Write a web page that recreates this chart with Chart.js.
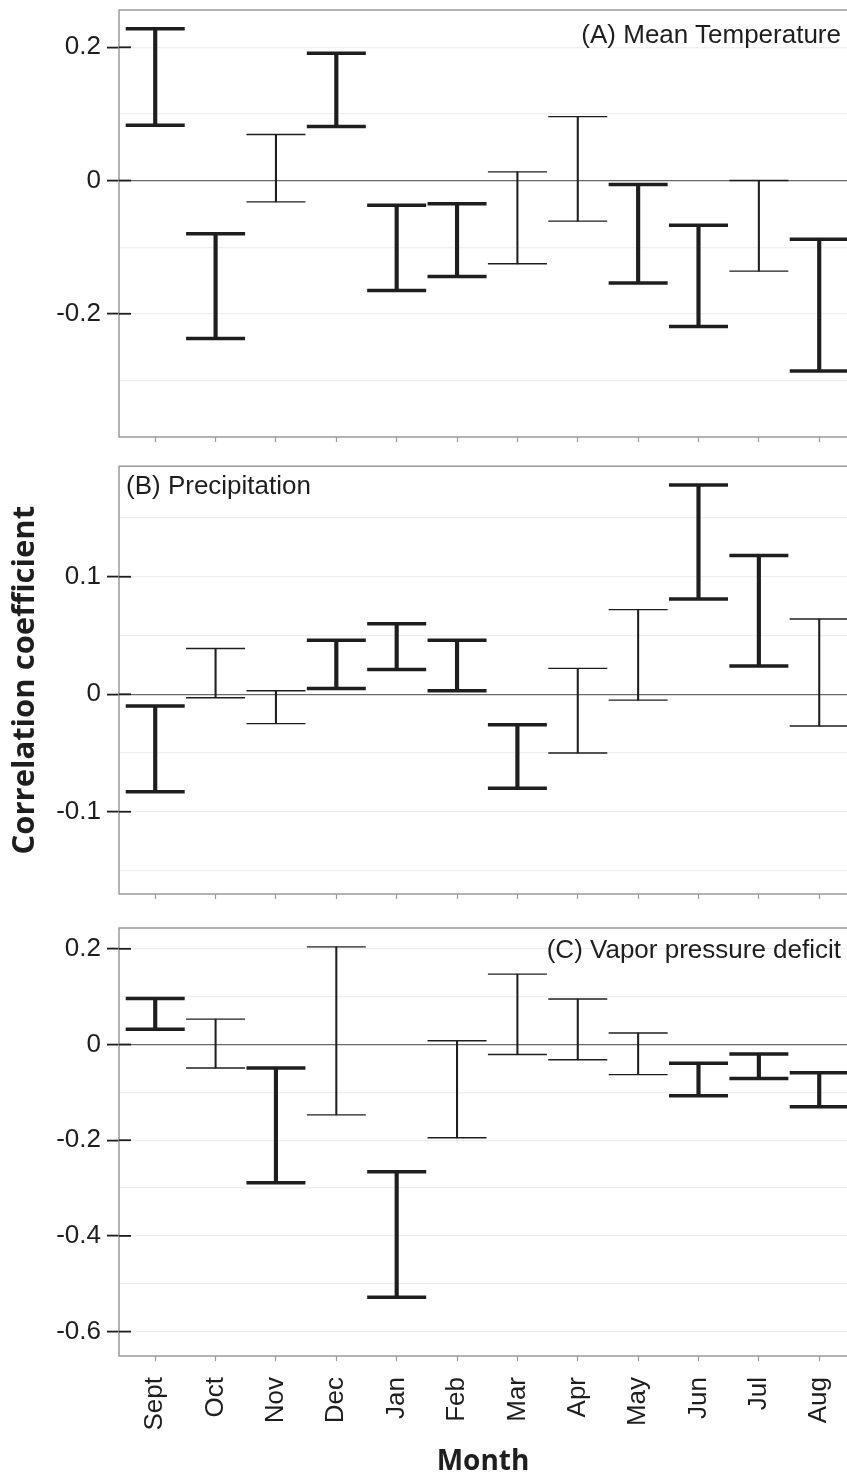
<!DOCTYPE html>
<html lang="en">
<head>
    <meta charset="UTF-8">
    <title>Correlation coefficient by month</title>
    <script src="https://cdn.jsdelivr.net/npm/chart.js"></script>
    <style>
        body { margin: 0; background: #fff; }
        #wrap { position: relative; width: 847px; height: 1476px; overflow: hidden; }
        canvas { position: absolute; left: 0; }
        .lab { position: absolute; font-family: "Liberation Sans", Arial, sans-serif; font-size: 26px; line-height: 26px; color: #1e1e1e; white-space: nowrap; }
    </style>
</head>
<body>
<div id="wrap">
    <canvas id="chartA" width="847" height="452" style="top:0px"></canvas>
    <canvas id="chartB" width="847" height="452" style="top:452px"></canvas>
    <canvas id="chartC" width="847" height="572" style="top:904px"></canvas>
    <div class="lab" style="right:6px; top:21px;">(A) Mean Temperature</div>
    <div class="lab" style="left:126px; top:472px;">(B) Precipitation</div>
    <div class="lab" style="right:6px; top:936px;">(C) Vapor pressure deficit</div>
</div>
<script>
    const months = ['Sept', 'Oct', 'Nov', 'Dec', 'Jan', 'Feb', 'Mar', 'Apr', 'May', 'Jun', 'Jul', 'Aug'];

    // (A) mean temperature
    const tempHigh = [0.228, -0.080, 0.069, 0.191, -0.037, -0.035, 0.013, 0.096, -0.006, -0.067, 0.000, -0.088];
    const tempLow = [0.083, -0.237, -0.032, 0.081, -0.165, -0.144, -0.125, -0.061, -0.154, -0.219, -0.136, -0.286];
    const tempBold = [1, 1, 0, 1, 1, 1, 0, 0, 1, 1, 0, 1];
    const tempGrid = [-0.3, -0.2, -0.1, 0, 0.1, 0.2];
    const tempTicks = [-0.2, 0, 0.2];

    // (B) precipitation
    const precHigh = [-0.010, 0.039, 0.003, 0.046, 0.060, 0.046, -0.026, 0.022, 0.072, 0.178, 0.118, 0.064];
    const precLow = [-0.083, -0.003, -0.025, 0.005, 0.021, 0.003, -0.080, -0.050, -0.005, 0.081, 0.024, -0.027];
    const precBold = [1, 0, 0, 1, 1, 1, 1, 0, 0, 1, 1, 0];
    const precGrid = [-0.15, -0.1, -0.05, 0, 0.05, 0.1, 0.15];
    const precTicks = [-0.1, 0, 0.1];

    // (C) vapor pressure deficit
    const vpdHigh = [0.096, 0.053, -0.049, 0.204, -0.266, 0.008, 0.147, 0.095, 0.024, -0.039, -0.020, -0.059];
    const vpdLow = [0.032, -0.049, -0.289, -0.147, -0.528, -0.195, -0.021, -0.032, -0.063, -0.107, -0.071, -0.130];
    const vpdBold = [1, 0, 1, 0, 1, 0, 0, 0, 0, 1, 1, 1];
    const vpdGrid = [-0.6, -0.5, -0.4, -0.3, -0.2, -0.1, 0, 0.1, 0.2];
    const vpdTicks = [-0.6, -0.4, -0.2, 0, 0.2];

    const ink = '#1e1e1e';
    const frameColor = '#9a9a9a';
    const tickFont = { family: '"Liberation Sans", Arial, sans-serif', size: 26 };

    // frame (top, left, bottom) + short inner tick marks on the y axis
    const framePlugin = {
        id: 'frame',
        beforeDatasetsDraw(chart) {
            const { ctx, chartArea: a, scales } = chart;
            ctx.save();
            ctx.strokeStyle = frameColor;
            ctx.lineWidth = 1.5;
            ctx.beginPath();
            ctx.moveTo(a.right + 2, a.top);
            ctx.lineTo(a.left, a.top);
            ctx.lineTo(a.left, a.bottom);
            ctx.lineTo(a.right + 2, a.bottom);
            ctx.stroke();
            const labels = chart.options.plugins.frame.labels;
            ctx.strokeStyle = ink;
            ctx.lineWidth = 1.8;
            labels.forEach(v => {
                const y = scales.y.getPixelForValue(v);
                ctx.beginPath();
                ctx.moveTo(a.left, y);
                ctx.lineTo(a.left + 12, y);
                ctx.stroke();
            });
            ctx.restore();
        }
    };

    function errorSets(low, high, bold, flag, width) {
        const idx = months.map((m, i) => i).filter(i => bold[i] === flag);
        return [{
            type: 'bar',
            data: idx.map(i => ({ x: i, y: [low[i], high[i]] })),
            backgroundColor: ink,
            borderWidth: 0,
            barThickness: width,
            grouped: false
        }, {
            type: 'line',
            showLine: false,
            data: idx.flatMap(i => [{ x: i, y: low[i] }, { x: i, y: high[i] }]),
            pointStyle: 'line',
            pointRadius: 29.5,
            pointBorderWidth: width,
            pointBorderColor: ink,
            pointBackgroundColor: ink
        }];
    }

    function makePanel(id, low, high, bold, grid, labels, yMin, yMax, padTop, xHeight, showX, yTitle) {
        new Chart(document.getElementById(id), {
            type: 'bar',
            data: {
                datasets: [
                    ...errorSets(low, high, bold, 1, 3.5),
                    ...errorSets(low, high, bold, 0, 1.4)
                ]
            },
            plugins: [framePlugin],
            options: {
                responsive: false,
                animation: false,
                events: [],
                devicePixelRatio: 1,
                layout: { autoPadding: false, padding: { top: padTop, left: 0, right: 0, bottom: 0 } },
                plugins: {
                    legend: { display: false },
                    tooltip: { enabled: false },
                    frame: { labels: labels }
                },
                scales: {
                    x: {
                        type: 'linear',
                        min: -0.6,
                        max: 11.46,
                        offset: false,
                        afterBuildTicks: s => { s.ticks = months.map((m, i) => ({ value: i })); },
                        afterFit: s => { s.height = xHeight; s.paddingLeft = 0; s.paddingRight = 0; },
                        border: { display: false },
                        grid: { display: true, offset: false, drawOnChartArea: false, drawTicks: true, tickLength: 5, tickColor: frameColor, tickWidth: 1.2 },
                        ticks: {
                            display: showX,
                            autoSkip: false,
                            minRotation: 90,
                            maxRotation: 90,
                            padding: 16,
                            color: ink,
                            font: tickFont,
                            callback: v => months[v]
                        },
                        title: {
                            display: showX,
                            text: 'Month',
                            color: ink,
                            font: { family: '"Open Sans", sans-serif', size: 28, weight: 'bold', lineHeight: 1 },
                            padding: { top: 0, bottom: 0 }
                        }
                    },
                    y: {
                        min: yMin,
                        max: yMax,
                        afterBuildTicks: s => { s.ticks = grid.map(v => ({ value: v })); },
                        afterFit: s => { s.width = 119; s.paddingTop = 0; s.paddingBottom = 0; },
                        border: { display: false },
                        grid: {
                            color: c => c.tick.value === 0 ? '#6a6a6a' : '#efefef',
                            lineWidth: 1.2,
                            tickLength: 12,
                            tickColor: c => labels.includes(c.tick.value) ? ink : 'rgba(0,0,0,0)',
                            tickWidth: 1.8
                        },
                        ticks: {
                            padding: 6,
                            color: ink,
                            font: tickFont,
                            callback: v => labels.includes(v) ? String(v) : ''
                        },
                        title: {
                            display: !!yTitle,
                            text: yTitle || '',
                            color: ink,
                            font: { family: '"Open Sans", sans-serif', size: 31, weight: 'bold', lineHeight: 1 },
                            padding: { top: 10, bottom: 0 }
                        }
                    }
                }
            }
        });
    }

    makePanel('chartA', tempLow, tempHigh, tempBold, tempGrid, tempTicks, -0.385, 0.256, 10, 15, false, null);
    makePanel('chartB', precLow, precHigh, precBold, precGrid, precTicks, -0.170, 0.194, 14.3, 10, false, 'Correlation coefficient');
    makePanel('chartC', vpdLow, vpdHigh, vpdBold, vpdGrid, vpdTicks, -0.651, 0.2435, 24, 120, true, null);
</script>
</body>
</html>
